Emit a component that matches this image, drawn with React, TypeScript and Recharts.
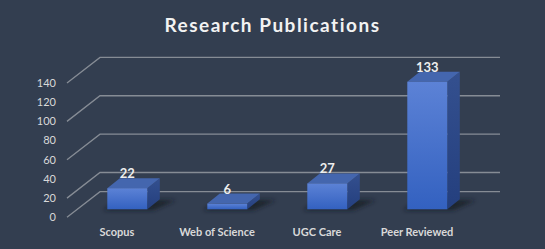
import React from 'react';
import { BarChart, Bar, XAxis, YAxis, CartesianGrid, LabelList } from 'recharts';

const chartTitle = 'Research Publications';
const categories = ['Scopus', 'Web of Science', 'UGC Care', 'Peer Reviewed'];
const publications = [22, 6, 27, 133];
const yTicks = [0, 20, 40, 60, 80, 100, 120, 140];

const data = categories.map((name, i) => ({ name, value: publications[i] }));

// 3D perspective styling offsets
const WALL_DX = 33;
const WALL_DY = -25.6;
const BAR_OFF_X = 10.3;
const BAR_OFF_Y = -8;
const BAR_DX = 12.5;
const BAR_DY = -10;

const FONT = 'Lato, "Open Sans", sans-serif';
const BG = '#333E50';

function GridLine(props: any) {
  const { x1, y1, x2, y2 } = props;
  return (
    <path
      d={`M${x1},${y1} L${x1 + WALL_DX},${y1 + WALL_DY} L${x2 + WALL_DX},${y2 + WALL_DY}`}
      fill="none"
      stroke="#868c95"
      strokeWidth={1.3}
    />
  );
}

function Bar3D(props: any) {
  const { x, y, width, height, index } = props;
  const fx = x + BAR_OFF_X;
  const fy = y + BAR_OFF_Y;
  const bottom = fy + height;
  const right = fx + width;
  const gid = `front-${index}`;
  const sid = `side-${index}`;
  const shid = `shadow-${index}`;
  return (
    <g>
      <defs>
        <linearGradient id={gid} x1="0" y1="0" x2="0" y2="1">
          <stop offset="0%" stopColor="#5C82D6" />
          <stop offset="100%" stopColor="#3361C0" />
        </linearGradient>
        <linearGradient id={sid} x1="0" y1="0" x2="0" y2="1">
          <stop offset="0%" stopColor="#34508F" />
          <stop offset="100%" stopColor="#243F7E" />
        </linearGradient>
        <filter id={shid} x="-50%" y="-50%" width="200%" height="200%">
          <feGaussianBlur stdDeviation="2.2" />
        </filter>
      </defs>
      <polygon
        points={`${fx - 4},${bottom + 1} ${right + 6},${bottom + 1} ${right + BAR_DX + 16},${bottom + BAR_DY + 1} ${fx + BAR_DX},${bottom + BAR_DY}`}
        fill="#161b24"
        opacity={0.75}
        filter={`url(#${shid})`}
      />
      <polygon
        points={`${right},${fy} ${right + BAR_DX},${fy + BAR_DY} ${right + BAR_DX},${bottom + BAR_DY} ${right},${bottom}`}
        fill={`url(#${sid})`}
      />
      <polygon
        points={`${fx},${fy} ${fx + BAR_DX},${fy + BAR_DY} ${right + BAR_DX},${fy + BAR_DY} ${right},${fy}`}
        fill="#4466AE"
      />
      <rect x={fx} y={fy} width={width} height={height} fill={`url(#${gid})`} />
    </g>
  );
}

function ValueLabel(props: any) {
  const { x, y, width, value } = props;
  return (
    <text
      x={x + width / 2 + BAR_OFF_X}
      y={y + BAR_OFF_Y - 15}
      textAnchor="middle"
      dominantBaseline="central"
      fill="#EEEEEE"
      fontFamily={FONT}
      fontWeight={700}
      fontSize={13}
    >
      {value}
    </text>
  );
}

export default function App() {
  return (
    <div style={{ position: 'fixed', left: 0, top: 0, width: 545, height: 249, background: BG, overflow: 'hidden' }}>
      <div
        style={{
          position: 'absolute',
          left: 0,
          top: 12,
          width: 545,
          textAlign: 'center',
          fontFamily: FONT,
          fontWeight: 700,
          fontSize: 19,
          letterSpacing: 1.5,
          color: '#F2F2F2',
          lineHeight: '26px',
        }}
      >
        {chartTitle}
      </div>
      <BarChart
        width={545}
        height={249}
        data={data}
        margin={{ top: 83, right: 78, bottom: 0, left: 0 }}
        barSize={40}
        style={{ position: 'absolute', left: 0, top: 0 }}
      >
        <CartesianGrid vertical={false} horizontal={(p: any) => <GridLine {...p} />} />
        <XAxis
          dataKey="name"
          axisLine={false}
          tickLine={false}
          tickSize={0}
          tickMargin={11}
          height={31.7}
          interval={0}
          tick={{ fill: '#D9D9D9', fontFamily: FONT, fontWeight: 700, fontSize: 11 }}
        />
        <YAxis
          domain={[0, 140]}
          ticks={yTicks}
          axisLine={false}
          tickLine={false}
          tickSize={0}
          tickMargin={11}
          width={67}
          tick={{ fill: '#D9D9D9', fontFamily: FONT, fontSize: 11 }}
        />
        <Bar dataKey="value" shape={(p: any) => <Bar3D {...p} />} isAnimationActive={false}>
          <LabelList dataKey="value" content={(p: any) => <ValueLabel {...p} />} />
        </Bar>
      </BarChart>
    </div>
  );
}
